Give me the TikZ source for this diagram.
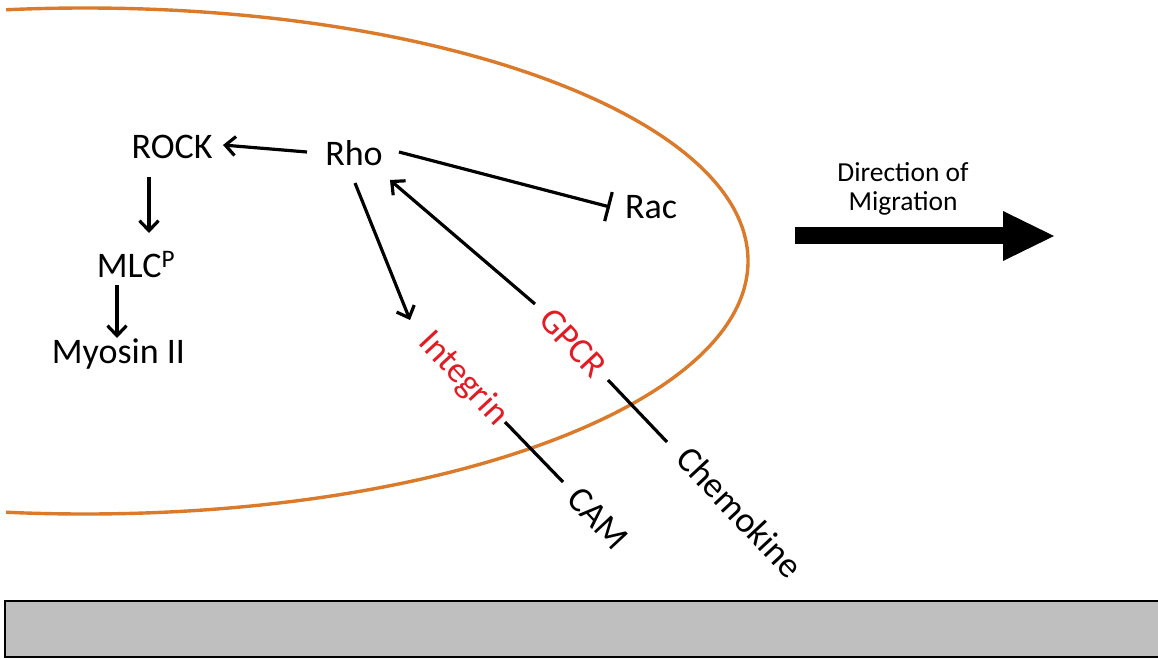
\documentclass[tikz,border=0pt]{standalone}
\usepackage{fontspec}
\setmainfont{Carlito}
\usetikzlibrary{arrows.meta,calc}
\definecolor{cellorange}{RGB}{218,122,42}
\definecolor{labelred}{RGB}{226,28,36}
\definecolor{groundgray}{RGB}{191,191,191}
\begin{document}
\begin{tikzpicture}[x=1pt,y=-1pt,
  lbl/.style={inner sep=0pt,outer sep=0pt,font=\fontsize{36}{42}\selectfont},
  rlbl/.style={lbl,text=labelred},
  link/.style={line width=3.2pt},
  act/.style={link,-{Straight Barb[length=10pt,width=19pt]}},
  inh/.style={link,-{Bar[width=30pt]}}]
\useasboundingbox (0,0) rectangle (1158,659);
\begin{scope}
\clip (6,0) rectangle (1158,659);
\draw[cellorange,line width=3.4pt] (85,261) ellipse [x radius=663, y radius=253];
\end{scope}
\filldraw[fill=groundgray,draw=black,line width=2.8pt] (5,601) rectangle (1164,657);

\node[lbl,anchor=base] (rock) at (172,158) {ROCK};
\node[lbl,anchor=base] (rho) at (354,165) {Rho};
\node[lbl,anchor=base] (rac) at (651,218) {Rac};
\node[lbl,anchor=base] (mlc) at (136,277) {MLC\textsuperscript{P}};
\node[lbl,anchor=base] (myosin) at (118.5,363) {Myosin II};
\node[rlbl,rotate=-47] (integrin) at (463,379) {Integrin};
\node[rlbl,rotate=-47] (gpcr) at (573,343) {GPCR};
\node[lbl,rotate=-47] (cam) at (598,518) {CAM};
\node[lbl,rotate=-47] (chemokine) at (740,512) {Chemokine};
\node[lbl,font=\fontsize{27.5}{28.5}\selectfont,align=center] (direction) at (903,189) {Direction of\\Migration};

\draw[act] ($(rho.base)+(-47,-13)$) -- ($(rock.base)+(51,-13)$);
\draw[act] ($(rock.base)+(-23,19)$) -- ($(mlc.base)+(13,-44)$);
\draw[act] ($(mlc.base)+(-19,8)$) -- ($(myosin.base)+(-1.5,-25)$);
\draw[inh] ($(rho.base)+(45,-13)$) -- ($(rac.base)+(-41,-11)$);
\draw[act] ($(rho.base)+(1,18)$) -- ($(integrin.center)+(-53,-59)$);
\draw[act] ($(gpcr.center)+(-38,-39)$) -- ($(rho.base)+(36,15)$);
\draw[link] ($(integrin.center)+(42,43)$) -- ($(cam.center)+(-35,-36)$);
\draw[link] ($(gpcr.center)+(35,37)$) -- ($(chemokine.center)+(-73,-70)$);

\fill (795,227) rectangle (1006,244);
\fill (1003,211) -- (1054,236) -- (1003,261) -- cycle;
\end{tikzpicture}
\end{document}
